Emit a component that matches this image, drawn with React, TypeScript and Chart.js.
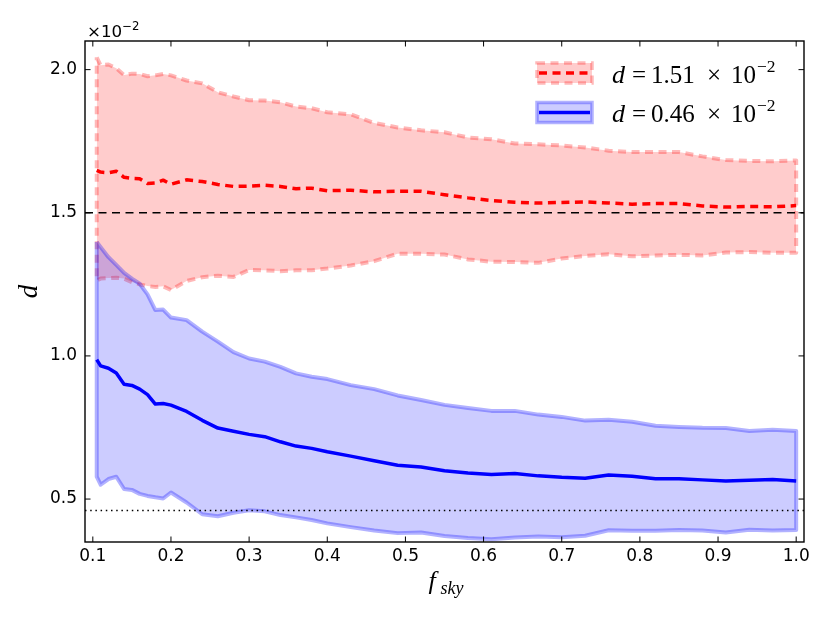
import React, { useEffect, useRef } from 'react';
import { Chart, registerables } from 'chart.js';

Chart.register(...registerables);

// sky fraction sampled along the x axis
const F_SKY = [
  0.105, 0.11, 0.12, 0.13, 0.14, 0.15, 0.16, 0.17, 0.18, 0.19, 0.2, 0.22, 0.24, 0.26, 0.28, 0.3, 0.32,
  0.34, 0.36, 0.38, 0.4, 0.43, 0.46, 0.49, 0.52, 0.55, 0.58, 0.61, 0.64, 0.67, 0.7, 0.73, 0.76, 0.79,
  0.82, 0.85, 0.88, 0.91, 0.94, 0.97, 1.0,
];

// d = 1.51e-2 case (values in units of 1e-2)
const RED_MEAN = [
  1.648, 1.642, 1.64, 1.645, 1.624, 1.62, 1.619, 1.602, 1.604, 1.614, 1.6, 1.615, 1.609, 1.599, 1.592,
  1.593, 1.596, 1.592, 1.584, 1.586, 1.577, 1.579, 1.573, 1.575, 1.575, 1.563, 1.552, 1.543, 1.537,
  1.534, 1.536, 1.538, 1.534, 1.53, 1.532, 1.532, 1.524, 1.52, 1.522, 1.521, 1.525,
];
const RED_UPPER = [
  2.043, 2.015, 2.018, 2.005, 1.981, 1.986, 1.985, 1.977, 1.98, 1.985, 1.98, 1.962, 1.952, 1.921, 1.906,
  1.893, 1.892, 1.886, 1.871, 1.865, 1.851, 1.844, 1.814, 1.798, 1.788, 1.781, 1.763, 1.757, 1.742,
  1.739, 1.735, 1.728, 1.717, 1.712, 1.712, 1.712, 1.697, 1.684, 1.681, 1.68, 1.683,
];
const RED_LOWER = [
  1.264, 1.27, 1.272, 1.273, 1.27, 1.258, 1.25, 1.244, 1.241, 1.243, 1.23, 1.262, 1.275, 1.28, 1.276,
  1.3, 1.299, 1.296, 1.299, 1.299, 1.305, 1.316, 1.331, 1.357, 1.357, 1.354, 1.337, 1.329, 1.328,
  1.325, 1.34, 1.349, 1.355, 1.348, 1.351, 1.353, 1.351, 1.361, 1.363, 1.36, 1.36,
];

// d = 0.46e-2 case
const BLUE_MEAN = [
  0.987, 0.965, 0.957, 0.94, 0.901, 0.897, 0.884, 0.865, 0.832, 0.834, 0.828, 0.806, 0.775, 0.748,
  0.737, 0.726, 0.718, 0.7, 0.685, 0.677, 0.665, 0.65, 0.634, 0.618, 0.612, 0.599, 0.591, 0.586, 0.589,
  0.581, 0.576, 0.573, 0.584, 0.58, 0.571, 0.571, 0.567, 0.563, 0.566, 0.568, 0.563,
];
const BLUE_UPPER = [
  1.398, 1.38, 1.345, 1.318, 1.29, 1.27, 1.252, 1.215, 1.16, 1.162, 1.134, 1.125, 1.085, 1.05, 1.013,
  0.991, 0.98, 0.962, 0.939, 0.927, 0.919, 0.898, 0.884, 0.862, 0.846, 0.829, 0.818, 0.808, 0.808,
  0.795, 0.787, 0.774, 0.777, 0.77, 0.756, 0.752, 0.749, 0.748, 0.738, 0.742, 0.738,
];
const BLUE_LOWER = [
  0.578, 0.55, 0.57, 0.578, 0.535, 0.532, 0.518, 0.511, 0.506, 0.502, 0.523, 0.488, 0.447, 0.44, 0.452,
  0.461, 0.457, 0.444, 0.436, 0.427, 0.415, 0.402, 0.39, 0.381, 0.383, 0.371, 0.364, 0.36, 0.366,
  0.369, 0.367, 0.372, 0.391, 0.389, 0.389, 0.392, 0.39, 0.383, 0.393, 0.39, 0.392,
];

const D_HIGH = 1.5;
const D_LOW = 0.46;
const LEGEND_VALUES = ['1.51', '0.46'];

const X_TICKS = [0.1, 0.2, 0.3, 0.4, 0.5, 0.6, 0.7, 0.8, 0.9, 1.0];
const Y_TICKS = [0.5, 1.0, 1.5, 2.0];
const X_RANGE = [0.09, 1.01];
const Y_RANGE = [0.35, 2.1];

const SANS = '"DejaVu Sans", sans-serif';
const MATH = '"Liberation Serif", serif';
const DASH = [8, 5.5];
const DOT = [1.5, 3.7];
const TICK_LEN = 5.5;

const RED_FILL = 'rgba(255,0,0,0.2)';
const RED_EDGE = 'rgba(255,0,0,0.28)';
const BLUE_FILL = 'rgba(0,0,255,0.2)';
const BLUE_EDGE = 'rgba(0,0,255,0.3)';

const pts = (ys: number[]) => ys.map((y, i) => ({ x: F_SKY[i], y }));
const outline = (upper: number[], lower: number[]) => [
  ...pts(upper),
  ...pts(lower).reverse(),
  { x: F_SKY[0], y: upper[0] },
];
const hline = (y: number) => [
  { x: X_RANGE[0], y },
  { x: X_RANGE[1], y },
];

function drawMathLabel(ctx: CanvasRenderingContext2D, x0: number, base: number, value: string) {
  ctx.fillStyle = '#000';
  ctx.textBaseline = 'alphabetic';
  ctx.textAlign = 'left';
  ctx.font = `italic 26px ${MATH}`;
  ctx.fillText('d', x0, base);
  ctx.font = `25px ${MATH}`;
  ctx.textAlign = 'center';
  ctx.fillText('=', x0 + 27, base);
  ctx.fillText('\u00d7', x0 + 102, base);
  ctx.textAlign = 'left';
  ctx.fillText(value, x0 + 39, base);
  ctx.fillText('10', x0 + 119, base);
  ctx.font = `17.5px ${MATH}`;
  ctx.fillText('\u22122', x0 + 145, base - 11);
}

const decorations = {
  id: 'decorations',
  afterDatasetsDraw(chart: any) {
    const { ctx, chartArea: a, scales } = chart;
    ctx.save();
    ctx.setLineDash([]);

    // inward ticks on all four sides
    ctx.strokeStyle = '#000';
    ctx.lineWidth = 1;
    ctx.beginPath();
    X_TICKS.forEach((v) => {
      const px = scales.x.getPixelForValue(v);
      ctx.moveTo(px, a.bottom);
      ctx.lineTo(px, a.bottom - TICK_LEN);
      ctx.moveTo(px, a.top);
      ctx.lineTo(px, a.top + TICK_LEN);
    });
    Y_TICKS.forEach((v) => {
      const py = scales.y.getPixelForValue(v);
      ctx.moveTo(a.left, py);
      ctx.lineTo(a.left + TICK_LEN, py);
      ctx.moveTo(a.right, py);
      ctx.lineTo(a.right - TICK_LEN, py);
    });
    ctx.stroke();

    ctx.lineWidth = 1.4;
    ctx.strokeRect(a.left, a.top, a.right - a.left, a.bottom - a.top);

    // legend
    const boxL = a.right - 267;
    const boxW = 55;
    const boxH = 20;
    const rows = [
      { yc: a.top + 32, fill: RED_FILL, edge: RED_EDGE, edgeDash: DASH, line: '#ff0000', lineDash: DASH },
      { yc: a.top + 71.5, fill: BLUE_FILL, edge: BLUE_EDGE, edgeDash: [], line: '#0000ff', lineDash: [] },
    ];
    rows.forEach((r, i) => {
      ctx.fillStyle = r.fill;
      ctx.fillRect(boxL, r.yc - boxH / 2, boxW, boxH);
      ctx.strokeStyle = r.edge;
      ctx.lineWidth = 3.5;
      ctx.setLineDash(r.edgeDash);
      ctx.strokeRect(boxL, r.yc - boxH / 2, boxW, boxH);
      ctx.strokeStyle = r.line;
      ctx.lineWidth = 3.5;
      ctx.setLineDash(r.lineDash);
      ctx.beginPath();
      ctx.moveTo(boxL + 2, r.yc);
      ctx.lineTo(boxL + boxW - 2, r.yc);
      ctx.stroke();
      ctx.setLineDash([]);
      drawMathLabel(ctx, boxL + 75, r.yc + 9.5, LEGEND_VALUES[i]);
    });

    // offset text above y axis
    ctx.fillStyle = '#000';
    ctx.textAlign = 'left';
    ctx.textBaseline = 'alphabetic';
    ctx.font = `16.7px ${SANS}`;
    ctx.fillText('\u00d710', a.left + 2, a.top - 4);
    const w = ctx.measureText('\u00d710').width;
    ctx.font = `11.7px ${SANS}`;
    ctx.fillText('\u22122', a.left + 2 + w, a.top - 11);

    // x axis label f_sky
    const cx = (a.left + a.right) / 2;
    ctx.font = `italic 26px ${MATH}`;
    ctx.fillText('f', cx - 16, a.bottom + 47);
    ctx.font = `italic 18px ${MATH}`;
    ctx.fillText('sky', cx - 4, a.bottom + 52);

    ctx.restore();
  },
};

export default function App() {
  const canvasRef = useRef<HTMLCanvasElement | null>(null);

  useEffect(() => {
    const el = canvasRef.current;
    if (!el) return;

    const base = { pointRadius: 0, tension: 0, borderCapStyle: 'butt', borderJoinStyle: 'round' };

    const chart = new Chart(el, {
      type: 'line',
      data: {
        datasets: [
          // 0,1: red band fill
          { ...base, data: pts(RED_UPPER), fill: 1, backgroundColor: RED_FILL, borderWidth: 0, order: 8 },
          { ...base, data: pts(RED_LOWER), fill: false, borderWidth: 0, order: 9 },
          // 2: red band edge
          {
            ...base,
            data: outline(RED_UPPER, RED_LOWER),
            fill: false,
            borderColor: RED_EDGE,
            borderWidth: 4,
            borderDash: DASH,
            order: 7,
          },
          // 3: red mean
          { ...base, data: pts(RED_MEAN), fill: false, borderColor: '#ff0000', borderWidth: 3.5, borderDash: DASH, order: 6 },
          // 4,5: blue band fill
          { ...base, data: pts(BLUE_UPPER), fill: 5, backgroundColor: BLUE_FILL, borderWidth: 0, order: 4 },
          { ...base, data: pts(BLUE_LOWER), fill: false, borderWidth: 0, order: 5 },
          // 6: blue band edge
          { ...base, data: outline(BLUE_UPPER, BLUE_LOWER), fill: false, borderColor: BLUE_EDGE, borderWidth: 4, order: 3 },
          // 7: blue mean
          { ...base, data: pts(BLUE_MEAN), fill: false, borderColor: '#0000ff', borderWidth: 3.5, order: 2 },
          // 8,9: reference values
          { ...base, data: hline(D_HIGH), fill: false, borderColor: '#000', borderWidth: 1.3, borderDash: DASH, order: 1 },
          { ...base, data: hline(D_LOW), fill: false, borderColor: '#000', borderWidth: 1.4, borderDash: DOT, order: 0 },
        ] as any,
      },
      options: {
        animation: false,
        responsive: true,
        maintainAspectRatio: false,
        events: [],
        layout: { padding: { top: 41, right: 26, left: 0, bottom: 0 } },
        plugins: { legend: { display: false }, tooltip: { enabled: false } },
        scales: {
          x: {
            type: 'linear',
            min: X_RANGE[0],
            max: X_RANGE[1],
            grid: { display: false, drawTicks: false },
            border: { display: false },
            ticks: {
              color: '#000',
              font: { family: SANS, size: 17 },
              padding: 4,
              maxRotation: 0,
              autoSkip: false,
              callback: (v: any) => Number(v).toFixed(1),
            },
            afterBuildTicks: (s: any) => {
              s.ticks = X_TICKS.map((value) => ({ value }));
            },
            afterFit: (s: any) => {
              s.height = 81;
            },
          },
          y: {
            type: 'linear',
            min: Y_RANGE[0],
            max: Y_RANGE[1],
            grid: { display: false, drawTicks: false },
            border: { display: false },
            title: {
              display: true,
              text: 'd',
              color: '#000',
              font: { family: MATH, size: 27, style: 'italic', lineHeight: 1 },
              padding: { top: 16, bottom: 0 },
            },
            ticks: {
              color: '#000',
              font: { family: SANS, size: 17 },
              padding: 8,
              callback: (v: any) => Number(v).toFixed(1),
            },
            afterBuildTicks: (s: any) => {
              s.ticks = Y_TICKS.map((value) => ({ value }));
            },
            afterFit: (s: any) => {
              s.width = 85;
            },
          },
        },
      } as any,
      plugins: [decorations],
    });

    return () => {
      chart.destroy();
    };
  }, []);

  return (
    <div style={{ position: 'absolute', left: 0, top: 0, width: 830, height: 623 }}>
      <canvas ref={canvasRef} />
    </div>
  );
}
